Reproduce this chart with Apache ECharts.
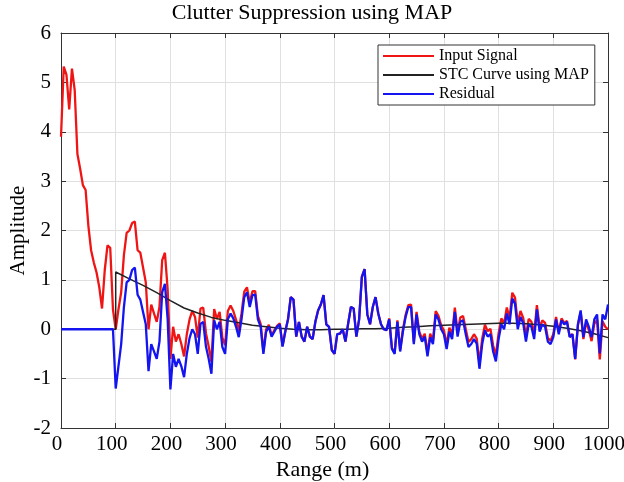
<!DOCTYPE html>
<html><head><meta charset="utf-8">
<script src="https://cdn.jsdelivr.net/npm/echarts@6/dist/echarts.min.js"></script>
<style>html,body{margin:0;padding:0;background:#fff}#c{width:624px;height:482px}</style>
</head><body><div id="c"></div>
<script>
// Range sampled every 5 m from 0 to 1000
const rangeStep = 5;
const inputSignal = [
3.9,5.32,5.15,4.45,5.28,4.85,3.55,3.25,2.92,2.82,
2.1,1.6,1.35,1.15,0.85,0.42,1.2,1.7,1.65,0.4,
0.0,0.4,0.75,1.5,1.95,2.0,2.15,2.18,1.6,1.55,
1.25,0.95,0.0,0.5,0.32,0.15,0.45,1.4,1.55,0.8,
-0.6,0.05,-0.25,-0.1,-0.3,-0.55,-0.1,0.2,0.37,0.25,
-0.17,0.42,0.44,-0.08,-0.35,-0.66,0.41,0.21,0.35,-0.17,
-0.32,0.37,0.48,0.37,0.19,-0.03,0.32,0.76,0.85,0.54,
0.77,0.77,0.27,0.11,-0.45,0.0,0.09,-0.12,-0.02,0.07,
0.12,-0.34,-0.04,0.2,0.65,0.6,-0.15,0.15,-0.15,-0.25,
0.05,-0.15,-0.2,0.15,0.38,0.5,0.69,0.1,0.05,-0.42,
-0.5,-0.1,-0.09,0.0,-0.25,0.12,0.45,0.42,-0.15,0.2,
1.06,1.22,0.3,0.1,0.45,0.65,0.32,0.1,0.0,-0.02,
0.22,-0.38,-0.47,0.18,-0.42,-0.01,0.29,0.49,0.5,-0.25,
0.35,-0.05,-0.19,-0.09,-0.49,-0.09,-0.23,0.37,0.27,0.08,
-0.02,-0.32,0.03,-0.11,0.44,-0.06,0.24,0.27,0.0,-0.26,
-0.2,-0.1,-0.19,-0.69,-0.19,0.09,-0.04,0.01,-0.33,-0.53,
-0.08,0.22,0.12,0.44,0.22,0.74,0.64,0.12,0.37,0.23,
-0.14,0.21,0.15,-0.1,0.49,0.04,0.18,0.13,-0.18,-0.23,
-0.1,0.25,-0.06,0.22,0.13,0.17,-0.15,-0.1,-0.61,0.08,
0.35,-0.2,0.15,-0.02,-0.24,0.11,0.19,-0.61,0.16,0.05,
0.0
];
const residual = [
0,0,0,0,0,0,0,0,0,0,
0,0,0,0,0,0,0,0,0,0,
-1.2,-0.75,-0.3,0.45,0.95,1.0,1.2,1.25,0.7,0.6,
0.35,0.1,-0.85,-0.3,-0.45,-0.6,-0.25,0.75,0.92,0.2,
-1.22,-0.5,-0.76,-0.6,-0.75,-0.97,-0.5,-0.18,0.0,-0.1,
-0.5,0.11,0.15,-0.35,-0.6,-0.9,0.18,0.0,0.15,-0.36,
-0.5,0.2,0.32,0.22,0.05,-0.16,0.2,0.65,0.75,0.45,
0.69,0.7,0.2,0.05,-0.5,-0.05,0.05,-0.15,-0.05,0.05,
0.1,-0.35,-0.05,0.2,0.65,0.6,-0.15,0.15,-0.15,-0.25,
0.05,-0.15,-0.2,0.15,0.38,0.5,0.69,0.1,0.05,-0.42,
-0.5,-0.1,-0.09,0.0,-0.25,0.12,0.45,0.42,-0.15,0.2,
1.06,1.22,0.3,0.1,0.45,0.65,0.32,0.1,0.0,-0.02,
0.2,-0.4,-0.5,0.15,-0.45,-0.05,0.25,0.45,0.45,-0.3,
0.3,-0.1,-0.25,-0.15,-0.55,-0.16,-0.3,0.3,0.2,0.0,
-0.1,-0.4,-0.05,-0.2,0.35,-0.15,0.15,0.18,-0.1,-0.36,
-0.3,-0.2,-0.29,-0.8,-0.3,-0.02,-0.15,-0.1,-0.45,-0.65,
-0.2,0.1,0.0,0.32,0.1,0.62,0.52,0.0,0.25,0.12,
-0.25,0.1,0.05,-0.2,0.4,-0.05,0.1,0.05,-0.25,-0.3,
-0.16,0.2,-0.1,0.18,0.1,0.15,-0.16,-0.1,-0.6,0.1,
0.38,-0.16,0.2,0.05,-0.16,0.2,0.3,-0.49,0.3,0.2,
0.5
];
const stcRange = [0,100,100,125,150,175,200,225,250,275,300,325,350,375,400,425,450,475,500,525,550,575,600,625,650,675,700,725,750,775,800,825,850,875,900,925,950,975,1000];
const stcCurve = [0,0,1.16,1.02,0.89,0.74,0.58,0.43,0.33,0.24,0.18,0.13,0.08,0.05,0.02,0.0,-0.01,-0.01,0.0,0.0,0.01,0.01,0.02,0.04,0.05,0.07,0.08,0.09,0.1,0.11,0.12,0.12,0.11,0.09,0.06,0.02,-0.03,-0.09,-0.17];
const xTickLabels = ['0','100','200','300','400','500','600','700','800','900','1000'];
const yTickLabels = ['-2','-1','0','1','2','3','4','5','6'];
const seriesNames = ['Input Signal','STC Curve using MAP','Residual'];

const serif = 'Liberation Serif, Times New Roman, serif';
const chart = echarts.init(document.getElementById('c'), null, {renderer:'canvas'});
const pairs = arr => arr.map((v,i)=>[i*rangeStep, v]);
const tickCommon = {show:true, inside:true, length:5, lineStyle:{color:'#333'}};
const lineCommon = {show:true, onZero:false, lineStyle:{color:'#333', width:1}};
chart.setOption({
  animation:false,
  backgroundColor:'#fff',
  title:{text:'Clutter Suppression using MAP', left:'center', top:0, padding:[2,0,0,0],
    textStyle:{fontFamily:serif, fontSize:22, fontWeight:'normal', color:'#000'}},
  grid:{left:61, right:16, top:33, bottom:54, containLabel:false, outerBoundsMode:'none'},
  legend:{orient:'vertical', left:378, top:45, icon:'rect', itemWidth:51, itemHeight:2, itemGap:3,
    padding:[3,6,3,5], backgroundColor:'#fff', borderColor:'#333', borderWidth:1, borderRadius:0,
    textStyle:{fontFamily:serif, fontSize:16, color:'#000'}, data:seriesNames},
  xAxis:[{type:'value', min:0, max:1000, interval:100, position:'bottom',
    name:'Range (m)', nameLocation:'middle', nameGap:31, nameMoveOverlap:false,
    nameTextStyle:{fontFamily:serif, fontSize:22, color:'#000', padding:[0,24,0,0]},
    axisLine:lineCommon, axisTick:tickCommon,
    axisLabel:{fontFamily:serif, fontSize:21, color:'#000', margin:6, padding:[0,8,0,0], showMinLabel:true, showMaxLabel:true,
      formatter:(v)=>xTickLabels[Math.round(v/100)]},
    splitLine:{show:true, lineStyle:{color:'#e0e0e0', width:1}}},
   {type:'value', min:0, max:1000, interval:100, position:'top',
    axisLine:lineCommon, axisTick:tickCommon,
    axisLabel:{show:false}, splitLine:{show:false}}],
  yAxis:[{type:'value', min:-2, max:6, interval:1, position:'left',
    name:'Amplitude', nameLocation:'middle', nameGap:32, nameRotate:90, nameMoveOverlap:false,
    nameTextStyle:{fontFamily:serif, fontSize:21, color:'#000'},
    axisLine:lineCommon, axisTick:tickCommon,
    axisLabel:{fontFamily:serif, fontSize:21, color:'#000', margin:10, showMinLabel:true, showMaxLabel:true,
      formatter:(v)=>yTickLabels[Math.round(v+2)]},
    splitLine:{show:true, lineStyle:{color:'#e0e0e0', width:1}}},
   {type:'value', min:-2, max:6, interval:1, position:'right',
    axisLine:lineCommon, axisTick:tickCommon,
    axisLabel:{show:false}, splitLine:{show:false}}],
  series:[
    {name:seriesNames[0], type:'line', data:pairs(inputSignal), showSymbol:false, symbol:'none',
      color:'#f01515', lineStyle:{color:'#f01515', width:2.3}, z:2},
    {name:seriesNames[1], type:'line', data:stcRange.map((x,i)=>[x, stcCurve[i]]), showSymbol:false, symbol:'none',
      color:'#222', lineStyle:{color:'#222', width:1.5}, z:3},
    {name:seriesNames[2], type:'line', data:pairs(residual), showSymbol:false, symbol:'none',
      color:'#1414f0', lineStyle:{color:'#1414f0', width:2.3}, z:4}
  ]
});
</script></body></html>
